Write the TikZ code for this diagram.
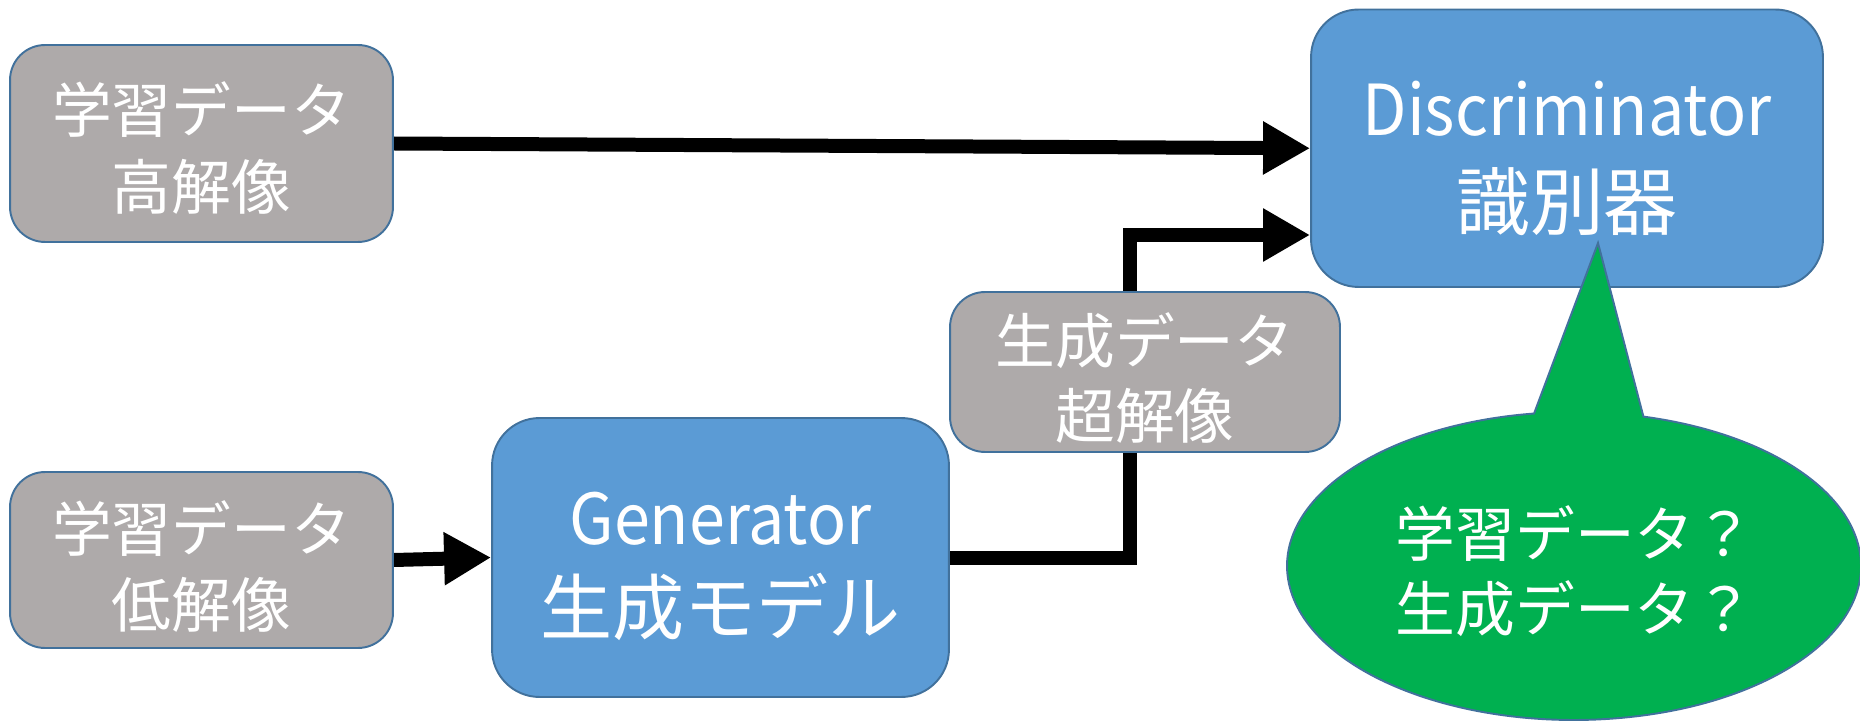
\documentclass[tikz,border=0pt]{standalone}
\usepackage{fontspec}
\setmainfont{Noto Sans CJK JP}
\newfontfamily\narrowfont[FakeStretch=0.92]{Noto Sans CJK JP}
\usetikzlibrary{arrows.meta,backgrounds,calc}
\definecolor{boxgray}{HTML}{AEAAAA}
\definecolor{boxblue}{HTML}{5B9BD5}
\definecolor{edgeblue}{HTML}{41719C}
\definecolor{bubblegreen}{HTML}{00B050}
\newcommand{\lna}[2]{\rule{0pt}{#1}\smash{#2}}
\newcommand{\lnb}[1]{\smash{#1}}
\tikzset{
  base/.style={draw=edgeblue, line width=1.1pt, text=white, align=center, inner sep=0pt},
  graybox/.style={base, fill=boxgray, rounded corners=0.7cm},
  bluebox/.style={base, fill=boxblue, rounded corners=0.95cm},
  arr/.style={line width=0.28cm, line join=miter, -{Triangle[length=0.94cm,width=1.0cm]}},
  bubble/.style={draw=edgeblue, line width=1.1pt, fill=bubblegreen}
}
\begin{document}
\begin{tikzpicture}[x=0.02cm,y=0.02cm]
\useasboundingbox (0,0) rectangle (1860,721);
% nodes
\node[graybox, minimum width=7.66cm, minimum height=3.94cm,
  font=\fontsize{34}{43.5}\selectfont] (b1) at (201.5,577.5)
  {\lna{31.1pt}{学習データ}\\\lnb{高解像}};
\node[graybox, minimum width=7.66cm, minimum height=3.52cm,
  font=\fontsize{34}{43.5}\selectfont] (b2) at (201.5,161)
  {\lna{33.4pt}{学習データ}\\\lnb{低解像}};
\node[bluebox, minimum width=9.14cm, minimum height=5.58cm,
  font=\fontsize{41}{50.9}\selectfont] (gen) at (720.5,163.5)
  {\lna{36.6pt}{\narrowfont\fontsize{40}{50.9}\selectfont Generator}\\\lnb{生成モデル}};
\node[graybox, minimum width=7.8cm, minimum height=3.2cm,
  font=\fontsize{34}{42.4}\selectfont] (gd) at (1145,349)
  {\lna{32.8pt}{生成データ}\\\lnb{超解像}};
\node[bluebox, minimum width=10.24cm, minimum height=5.55cm,
  font=\fontsize{42}{53.8}\selectfont] (disc) at (1567,572.75)
  {\lna{38.8pt}{\narrowfont\fontsize{40}{53.8}\selectfont Discriminator}\\\lnb{識別器}};
% speech bubble
\coordinate (ec) at (1574,155);
\coordinate (tip) at (1598,478);
\draw[bubble] (tip) -- ([shift={(98:5.74cm and 3.08cm)}]ec)
  arc[start angle=98, end angle=436, x radius=5.74cm, y radius=3.08cm] -- cycle;
\node[text=white, align=center, inner sep=0pt, font=\fontsize{34}{42.7}\selectfont] (q) at (1575,126.9)
  {\lna{0pt}{学習データ？}\\\lnb{生成データ？}};
% connectors
\coordinate (j) at (1130,486);
\begin{pgfonlayer}{background}
\draw[arr] (b1.east) -- (disc.west);
\draw[arr] (b2.east) -- (gen.west);
\draw[arr] (gen.east) -| (j) -- (j -| disc.west);
\end{pgfonlayer}
\end{tikzpicture}
\end{document}
